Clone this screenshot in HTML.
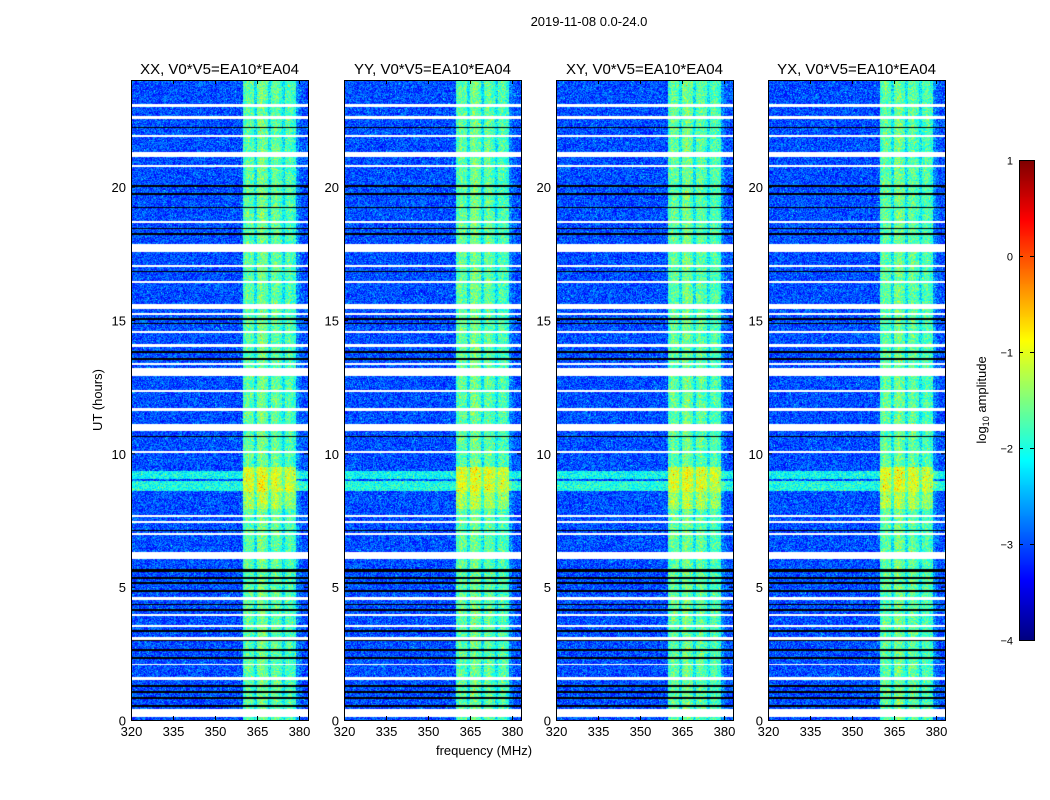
<!DOCTYPE html>
<html><head><meta charset="utf-8"><style>
body{margin:0;background:#fff;width:1050px;height:800px;position:relative;overflow:hidden;font-family:"Liberation Sans","DejaVu Sans",sans-serif;}
.t{position:absolute;white-space:nowrap;color:#000;}
canvas{position:absolute;}
</style></head><body>
<div class="t" style="left:489px;top:14px;width:200px;text-align:center;font-size:13px;">2019-11-08 0.0-24.0</div>
<div id="root"></div>
<svg id="ax" width="1050" height="800" style="position:absolute;left:0;top:0"></svg>
<script>
// ---- data ----
const panelTitles=["XX, V0*V5=EA10*EA04","YY, V0*V5=EA10*EA04","XY, V0*V5=EA10*EA04","YX, V0*V5=EA10*EA04"];
const xTicks=[320,335,350,365,380];
const yTicks=[0,5,10,15,20];
const cbTicks=[1,0,-1,-2,-3,-4];
// log10 amplitude baseline per 1 MHz bin, 320..383
const freqProfile=[-3.0,-3.0,-3.0,-3.0,-3.0,-3.0,-3.0,-3.0,-3.0,-3.0,-3.0,-3.0,-3.0,-3.0,-3.0,-3.0,-3.0,-3.0,-3.0,-3.0,
-3.0,-3.0,-3.0,-3.0,-3.0,-3.0,-3.0,-3.0,-3.0,-3.0,-3.0,-3.0,-3.0,-3.0,-3.0,-3.0,-3.0,-3.0,-3.0,-3.0,
-1.8,-1.6,-1.7,-1.7,-2.2,-1.6,-1.5,-1.6,-1.7,-2.2,-1.7,-1.6,-1.7,-1.8,-2.2,-1.8,-1.7,-1.8,-1.9,-2.7,-2.9,-3.0,-3.0,-3.0];
// broadband time events (hours)
const eventStart=[8.6,9.05];
const eventEnd=[8.95,9.35];
const eventBoost=[1.0,0.9];
// in-band events (hours)
const bandStart=[7.9,8.55,9.0];
const bandEnd=[8.55,9.0,9.5];
const bandBoost=[0.35,0.6,0.6];
// flagged (white) bands in hours
const whiteStart=[23.0,22.55,21.85,21.1,20.75,18.65,17.55,17.0,16.4,15.4,15.2,14.5,14.0,13.3,12.9,12.3,11.6,10.85,10.0,7.6,7.4,6.95,6.05,4.5,3.9,3.5,3.0,2.05,1.5,0.1];
const whiteEnd=[23.1,22.65,21.92,21.3,20.82,18.72,17.85,17.07,16.48,15.6,15.28,14.58,14.1,13.4,13.2,12.38,11.7,11.1,10.08,7.68,7.47,7.03,6.3,4.6,3.97,3.57,3.1,2.1,1.6,0.4];
// black bands in hours
const blackStart=[22.2,20.0,19.7,19.2,18.4,18.2,16.8,15.0,14.85,13.5,13.75,10.6,7.1,5.55,5.3,5.1,4.8,4.3,4.1,3.3,2.95,2.6,2.3,1.25,1.0,0.8,0.5];
const blackEnd=[22.25,20.05,19.75,19.25,18.45,18.25,16.85,15.06,14.9,13.56,13.82,10.65,7.14,5.66,5.37,5.18,4.88,4.36,4.18,3.36,3.0,2.66,2.37,1.33,1.08,0.88,0.56];
// ---- geometry ----
const panelX=[131,344,556,768], PW=177, PT=80, PB=720;
const xmin=320,xmax=383.2,ymin=0,ymax=24;
const xs=v=>(v-xmin)/(xmax-xmin)*PW;
const ys=v=>PB-(v-ymin)/(ymax-ymin)*(PB-PT);
function jet(v){let t=(v+4)/5;t=Math.max(0,Math.min(1,t));
 const f=x=>Math.max(0,Math.min(1,1.5-Math.abs(4*t-x)));
 return [f(3)*255,f(2)*255,f(1)*255];}
function hash(a,b,c){let h=(a*374761393+b*668265263+c*2147483647)|0;h=(h^(h>>>13))*1274126177|0;return ((h^(h>>>16))>>>0)/4294967296;}
const root=document.getElementById('root');
const NS='http://www.w3.org/2000/svg';
const svg=document.getElementById('ax');
function sv(tag,attrs){const e=document.createElementNS(NS,tag);for(const k in attrs)e.setAttribute(k,attrs[k]);svg.appendChild(e);return e;}
function txt(s,x,y,anchor,size,name){const e=sv('text',{x:x,y:y,'text-anchor':anchor,'font-size':size,'font-family':'Liberation Sans, sans-serif'});e.textContent=s;
 
 return e;}
panelX.forEach((px,p)=>{
 const c=document.createElement('canvas');c.width=PW;c.height=PB-PT;c.style.left=px+'px';c.style.top=PT+'px';
 
 
 root.appendChild(c);
 const ctx=c.getContext('2d');const im=ctx.createImageData(PW,PB-PT);const d=im.data;
 for(let r=0;r<PB-PT;r++){
  const h=ymax-(r+0.5)/(PB-PT)*(ymax-ymin);
  let boost=0,bb=0;
  for(let i=0;i<eventStart.length;i++)if(h>=eventStart[i]&&h<eventEnd[i])boost=Math.max(boost,eventBoost[i]);
  for(let i=0;i<bandStart.length;i++)if(h>=bandStart[i]&&h<bandEnd[i])bb=Math.max(bb,bandBoost[i]);
  let white=false,black=false;
  for(let i=0;i<whiteStart.length;i++)if(h>=whiteStart[i]&&h<whiteEnd[i])white=true;
  for(let i=0;i<blackStart.length;i++)if(h>=blackStart[i]&&h<blackEnd[i])black=true;
  for(let col=0;col<PW;col++){
   const k=(r*PW+col)*4;
   let rgb;
   if(white)rgb=[255,255,255];else if(black)rgb=[0,0,0];
   else{
    const f=xmin+(col+0.5)/PW*(xmax-xmin);
    const bi=Math.min(freqProfile.length-1,Math.floor(f-xmin));
    let base=freqProfile[bi];
    let v=base+(base>-2.5?Math.max(bb,boost*0.5):boost)+(hash(r,col,p)-0.5)*0.9+(hash(col,r,p+7)>0.985?0.7:0);
    rgb=jet(v);
   }
   d[k]=rgb[0];d[k+1]=rgb[1];d[k+2]=rgb[2];d[k+3]=255;
  }
 }
 ctx.putImageData(im,0,0);
 const fr=sv('rect',{x:px+0.5,y:PT+0.5,width:PW,height:PB-PT,fill:'none',stroke:'#000','stroke-width':1});
 
 
 txt(panelTitles[p],px+PW/2,74,'middle',15,'panel-title-'+(p+1));
 xTicks.forEach(t=>{const x=px+xs(t)+0.5;
  sv('line',{x1:x,x2:x,y1:PB,y2:PB-4,stroke:'#000'});sv('line',{x1:x,x2:x,y1:PT,y2:PT+4,stroke:'#000'});
  txt(String(t),x,736,'middle',13,'x-tick-label');});
 yTicks.forEach(t=>{const y=ys(t)+0.5;
  sv('line',{x1:px,x2:px+4,y1:y,y2:y,stroke:'#000'});sv('line',{x1:px+PW,x2:px+PW-4,y1:y,y2:y,stroke:'#000'});
  txt(String(t),px-5,y+5,'end',13,'y-tick-label');});
});
txt('UT (hours)',0,0,'middle',13,'y-axis-title').setAttribute('transform','translate(102,400) rotate(-90)');
txt('frequency (MHz)',484,755,'middle',13,'x-axis-title');
const cb=document.createElement('canvas');cb.width=15;cb.height=480;cb.style.left='1019px';cb.style.top='160px';


root.appendChild(cb);
const cc=cb.getContext('2d');
for(let i=0;i<480;i++){const c=jet(1-i/480*5);cc.fillStyle=`rgb(${c[0]|0},${c[1]|0},${c[2]|0})`;cc.fillRect(0,i,15,1);}
sv('rect',{x:1019.5,y:160.5,width:15,height:480,fill:'none',stroke:'#000'});
cbTicks.forEach(t=>{const y=160+(1-t)/5*480+0.5;
 sv('line',{x1:1019,x2:1023,y1:y,y2:y,stroke:'#000'});sv('line',{x1:1034,x2:1030,y1:y,y2:y,stroke:'#000'});
 txt(t<0?'\u2212'+(-t):String(t),1013,y+4,'end',11,'colorbar-tick-label');});
const cl=txt('',0,0,'middle',13,'colorbar-label');cl.setAttribute('transform','translate(986,400) rotate(-90)');
cl.innerHTML='log<tspan font-size="9" dy="3">10</tspan><tspan dy="-3"> amplitude</tspan>';
</script>
</body></html>
